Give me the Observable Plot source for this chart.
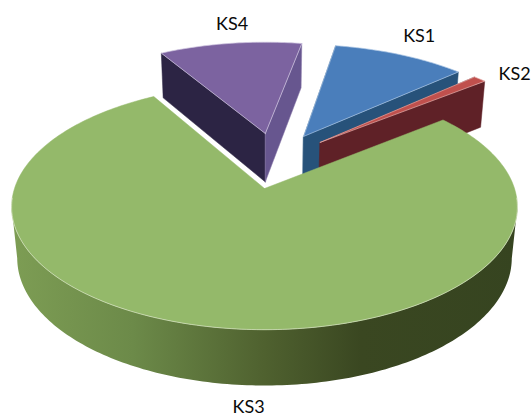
<!DOCTYPE html>
<html>
<head>
<meta charset="utf-8">
<script src="https://cdn.jsdelivr.net/npm/d3@7"></script>
<script src="https://cdn.jsdelivr.net/npm/@observablehq/plot@0.6"></script>
<style>html,body{margin:0;padding:0;background:#fff}</style>
</head>
<body>
<div id="chart"></div>
<script>
const categories = ["KS1", "KS2", "KS3", "KS4"];
const shares = [10.4, 1.0, 77.4, 11.2];

const topColors = ["#4a7ebb", "#c0504d", "#94b96a", "#7c63a0"];
const edgeColors = ["#a9c4e4", "#e6b0ae", "#dfe8cf", "#cfc4e0"];
const startSideColors = ["#27527a", "#5f2127", "#6f8c48", "#2c2444"];
const endSideColors = ["#27527a", "#5f2127", "#384520", "#67568f"];
const endSideEdges = ["#27527a", "#5f2127", "#384520", "#8b7baa"];

// camera and pie geometry
const W = 532, H = 416;
const cx = 264, cy = 188, sx = 250, sy = 120, persp = 0.15, sink = 0.022, depth = 51.8;
const startAngle = 79.7, explode = 0.25;
const rad = d => d * Math.PI / 180;

// angular spans, clockwise from the start angle
let acc = startAngle;
const slices = categories.map((name, i) => {
  const a0 = acc, a1 = acc - shares[i] * 3.6;
  acc = a1;
  return {name, i, a0, a1, mid: (a0 + a1) / 2};
});
const ks3 = slices[2];
const originX = -explode * Math.cos(rad(ks3.mid));
const originY = -explode * Math.sin(rad(ks3.mid));

// world point (X right, Y away from viewer, level 0 top / 1 bottom) -> picture point
function proj(X, Y, level) {
  const w = 1 + persp * Y + sink * level;
  return {x: cx + sx * X / w, y: cy - (sy * Y - depth * level) / w};
}
function apex(s) {
  return [originX + explode * Math.cos(rad(s.mid)), originY + explode * Math.sin(rad(s.mid))];
}
function rim(s, a, level) {
  const [ax, ay] = apex(s);
  return proj(ax + Math.cos(rad(a)), ay + Math.sin(rad(a)), level);
}
function arcAngles(a0, a1, step = 1) {
  const n = Math.max(2, Math.ceil(Math.abs(a0 - a1) / step));
  return d3.range(n + 1).map(k => a0 + (a1 - a0) * k / n);
}
function radialSide(s, a) {
  const [ax, ay] = apex(s);
  return [proj(ax, ay, 0), rim(s, a, 0), rim(s, a, 1), proj(ax, ay, 1)];
}
function topFace(s) {
  const [ax, ay] = apex(s);
  return [proj(ax, ay, 0), ...arcAngles(s.a0, s.a1).map(a => rim(s, a, 0)), proj(ax, ay, 0)];
}

const face = (pts, fill, stroke, strokeWidth = 0.7) =>
  Plot.line(pts, {x: "x", y: "y", fill, stroke: stroke || fill, strokeWidth, curve: "linear-closed"});

// the wall's silhouette starts where the perspective ellipse is widest
const turn = Math.asin(persp) * 180 / Math.PI;
const wallFrom = 180 + turn, wallTo = 360 - turn;

// outer wall shading of the large slice, left to right
const wallStops = [[0, "#7d9d54"], [0.24, "#6c8a49"], [0.5, "#4f612f"], [0.69, "#3a4721"], [1, "#364420"]];
const wallLeft = rim(ks3, wallFrom, 0).x, wallRight = rim(ks3, wallTo, 0).x;
function wallGradient(_, {x}) {
  const defs = d3.create("svg:defs");
  const g = defs.append("linearGradient").attr("id", "wall").attr("gradientUnits", "userSpaceOnUse")
    .attr("x1", x(wallLeft)).attr("x2", x(wallRight)).attr("y1", 0).attr("y2", 0);
  wallStops.forEach(([o, c]) => g.append("stop").attr("offset", o).attr("stop-color", c));
  return defs.node();
}

const marks = [wallGradient];
// painter's order: back slices first, large slice last
for (const s of [slices[3], slices[0], slices[1]]) {
  marks.push(face(radialSide(s, s.a0), startSideColors[s.i], null, 0.5));
  marks.push(face(radialSide(s, s.a1), endSideColors[s.i], endSideEdges[s.i], 0.5));
  marks.push(face(topFace(s), topColors[s.i], edgeColors[s.i], 0.7));
}
// wall of the large slice
const wallAngles = arcAngles(wallFrom, wallTo, 1);
const wall = [...wallAngles.map(a => rim(ks3, a, 0)), ...wallAngles.slice().reverse().map(a => rim(ks3, a, 1))];
marks.push(face(wall, "url(#wall)", "none", 0));
marks.push(face(topFace(ks3), topColors[2], topColors[2], 0.5));
marks.push(Plot.line(arcAngles(wallFrom - 4, wallTo + 4).map(a => rim(ks3, a, 0)), {x: "x", y: "y", stroke: edgeColors[2], strokeWidth: 0.6}));

// labels sit outside each slice's rim
const labelRadius = [1.25, 1.165, 1.43, 1.24];
const labelAngle = [61.5, 37, 268, 97.7];
const labels = slices.map(s => {
  const [ax, ay] = apex(s);
  const a = labelAngle[s.i], r = labelRadius[s.i];
  return {name: s.name, ...proj(ax + r * Math.cos(rad(a)), ay + r * Math.sin(rad(a)), 0)};
});
marks.push(Plot.text(labels, {x: "x", y: "y", text: "name", fontSize: 18, fill: "#0a0a0a", fontFamily: "Lato, sans-serif"}));

document.getElementById("chart").append(Plot.plot({
  width: W, height: H,
  marginTop: 0, marginRight: 0, marginBottom: 0, marginLeft: 0,
  x: {domain: [0, W], axis: null},
  y: {domain: [H, 0], axis: null},
  style: {background: "#fff"},
  marks
}));
</script>
</body>
</html>
